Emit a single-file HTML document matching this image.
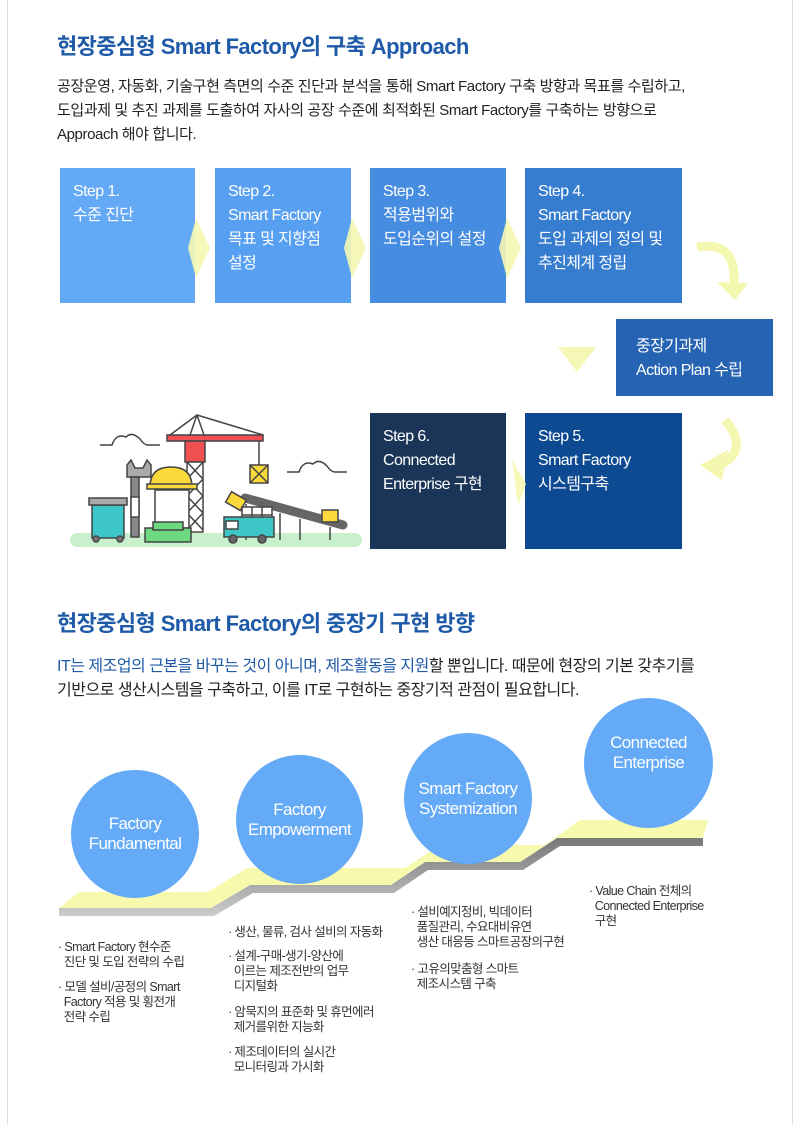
<!DOCTYPE html>
<html><head><meta charset="utf-8"><style>
*{margin:0;padding:0;box-sizing:border-box}
body{width:800px;height:1125px;background:#fff;position:relative;overflow:hidden;font-family:"Liberation Sans","Noto Sans CJK KR",sans-serif;letter-spacing:-0.6px}
.a{position:absolute;white-space:nowrap}
.h{color:#1f5aa8;font-size:22px;font-weight:bold;letter-spacing:-0.6px}
.p{font-size:15px;color:#222;line-height:24px;letter-spacing:-0.4px}
.box{position:absolute;color:#fff;font-size:16px;line-height:24px;padding:12px 0 0 13px}
.c{position:absolute;border-radius:50%;background:#64aaf7;color:#fff;font-size:17px;text-align:center;display:flex;align-items:center;justify-content:center;line-height:20px}
.t{font-size:12.5px;color:#333;line-height:15px;position:absolute;white-space:nowrap}
</style></head><body>
<div class="a" style="left:7px;top:0;width:1px;height:1125px;background:#ddd"></div>
<div class="a" style="left:792px;top:0;width:1px;height:1125px;background:#ddd"></div>

<div class="a h" style="left:57px;top:29px">현장중심형 Smart Factory의 구축 Approach</div>
<div class="a p" style="left:57px;top:75px">공장운영, 자동화, 기술구현 측면의 수준 진단과 분석을 통해 Smart Factory 구축 방향과 목표를 수립하고,<br>도입과제 및 추진 과제를 도출하여 자사의 공장 수준에 최적화된 Smart Factory를 구축하는 방향으로<br>Approach 해야 합니다.</div>

<div class="box" style="left:60px;top:168px;width:135px;height:135px;background:#64a9f5">Step 1.<br>수준 진단</div>
<div class="box" style="left:215px;top:168px;width:136px;height:135px;background:#579ff0">Step 2.<br>Smart Factory<br>목표 및 지향점<br>설정</div>
<div class="box" style="left:370px;top:168px;width:136px;height:135px;background:#468ce0">Step 3.<br>적용범위와<br>도입순위의 설정</div>
<div class="box" style="left:525px;top:168px;width:157px;height:135px;background:#367ccf">Step 4.<br>Smart Factory<br>도입 과제의 정의 및<br>추진체계 정립</div>
<div class="box" style="left:616px;top:319px;width:157px;height:77px;background:#2663b3;padding:16px 0 0 20px">중장기과제<br>Action Plan 수립</div>
<div class="box" style="left:370px;top:413px;width:136px;height:136px;background:#1b3558">Step 6.<br>Connected<br>Enterprise 구현</div>
<div class="box" style="left:525px;top:413px;width:157px;height:136px;background:#0e4a92">Step 5.<br>Smart Factory<br>시스템구축</div>

<svg class="a" style="left:0;top:0" width="800" height="1125">
<g fill="#f4f7b0" opacity="0.9">
<polygon points="188,248 196,218 210,248 196,278"/>
<polygon points="344,248 352,218 366,248 352,278"/>
<polygon points="499,248 507,218 521,248 507,278"/>
<polygon points="526,484 512,460 518,505" />
<polygon points="558,347 596,347 577,372"/>
</g>
<path d="M697,247 Q740,240 733,290" stroke="#f4f7b0" stroke-width="9" fill="none"/>
<polygon points="717,282 748,283 735,300" fill="#f4f7b0"/>
<path d="M725,420 Q750,450 720,465" stroke="#f4f7b0" stroke-width="9" fill="none"/>
<polygon points="700,465 728,450 722,480" fill="#f4f7b0"/>
<!-- illustration -->
<g stroke="#444" stroke-width="1.5">
<rect x="70" y="533" width="292" height="14" rx="7" fill="#c8f0cc" stroke="none"/>
<path d="M100,445 h12 q4,-12 14,-8 q6,-6 14,2 q4,6 8,6 h12" fill="none"/>
<path d="M287,472 h12 q4,-12 14,-8 q6,-6 14,2 q4,6 8,6 h12" fill="none"/>
<polyline points="170,435 197,415 263,435" fill="none"/>
<line x1="197" y1="415" x2="190" y2="435"/><line x1="197" y1="415" x2="204" y2="435"/>
<rect x="167" y="435" width="96" height="6" fill="#f05050"/>
<rect x="185" y="441" width="20" height="21" fill="#f05050"/>
<rect x="187" y="462" width="16" height="70" fill="#fff"/>
<path d="M187,462 l16,17 M203,462 l-16,17 M187,479 l16,17 M203,479 l-16,17 M187,496 l16,17 M203,496 l-16,17 M187,513 l16,17 M203,513 l-16,17" fill="none"/>
<line x1="259" y1="441" x2="259" y2="465"/>
<rect x="250" y="465" width="18" height="18" fill="#fbd93a"/>
<path d="M250,465 l18,18 M268,465 l-18,18"/>
<rect x="92" y="505" width="32" height="33" fill="#3cc6c6"/>
<rect x="89" y="498" width="38" height="7" fill="#aaa"/>
<circle cx="96" cy="539" r="3" fill="#777"/><circle cx="120" cy="539" r="3" fill="#777"/>
<path d="M127,465 l4,-5 l4,8 h8 l4,-8 l4,5 v12 h-24 z" fill="#aaa"/>
<rect x="131" y="477" width="8" height="60" fill="#888"/>
<rect x="131" y="497" width="8" height="20" fill="#fff"/>
<rect x="155" y="490" width="34" height="38" fill="#fff"/>
<path d="M150,487 q0,-20 21,-20 q21,0 21,20 z" fill="#fbd93a"/>
<rect x="147" y="484" width="50" height="5" fill="#fbd93a"/>
<rect x="145" y="528" width="46" height="14" fill="#6ed87e"/>
<rect x="153" y="522" width="30" height="8" fill="#6ed87e"/>
<line x1="245" y1="498" x2="343" y2="525" stroke="#666" stroke-width="9" stroke-linecap="round"/>
<line x1="246" y1="504" x2="246" y2="540"/><line x1="260" y1="508" x2="260" y2="540"/><line x1="280" y1="513" x2="280" y2="540"/><line x1="300" y1="519" x2="300" y2="540"/><line x1="330" y1="527" x2="330" y2="540"/>
<rect x="228" y="495" width="17" height="12" fill="#fbd93a" transform="rotate(30 236 500)"/>
<rect x="322" y="510" width="16" height="12" fill="#fbd93a"/>
<rect x="242" y="507" width="30" height="25" fill="#fff"/>
<path d="M242,515 h30 M242,523 h30 M252,507 v25 M262,507 v25" fill="none"/>
<rect x="224" y="517" width="50" height="20" fill="#3cc6c6"/>
<rect x="226" y="521" width="12" height="8" fill="#fff"/>
<circle cx="233" cy="539" r="4" fill="#666"/><circle cx="262" cy="539" r="4" fill="#666"/>
</g>
<!-- stairs -->
<defs><linearGradient id="sh" x1="0" y1="0" x2="0" y2="1"><stop offset="0" stop-color="#777"/><stop offset="1" stop-color="#ccc"/></linearGradient></defs>
<polygon points="59,908 211,908 250,885 391,885 425,862 520,862 557,838 703,838 703,846 560,846 523,870 428,870 394,893 253,893 214,916 59,916" fill="url(#sh)"/>
<polygon points="79,892 208,892 247,868 405,868 440,845 545,845 580,820 708,820 703,838 557,838 520,862 425,862 391,885 250,885 211,908 59,908" fill="#f7f9ad"/>
</svg>

<div class="a h" style="left:57px;top:606px">현장중심형 Smart Factory의 중장기 구현 방향</div>
<div class="a p" style="left:57px;top:655px;font-size:16px;letter-spacing:-0.5px"><span style="color:#1f5aa8">IT는 제조업의 근본을 바꾸는 것이 아니며, 제조활동을 지원</span>할 뿐입니다. 때문에 현장의 기본 갖추기를<br>기반으로 생산시스템을 구축하고, 이를 IT로 구현하는 중장기적 관점이 필요합니다.</div>

<div class="c" style="left:71px;top:770px;width:128px;height:128px">Factory<br>Fundamental</div>
<div class="c" style="left:236px;top:755px;width:127px;height:129px">Factory<br>Empowerment</div>
<div class="c" style="left:404px;top:733px;width:128px;height:131px">Smart Factory<br>Systemization</div>
<div class="c" style="left:584px;top:698px;width:129px;height:130px;padding-bottom:20px">Connected<br>Enterprise</div>

<div class="t" style="left:58px;top:940px">· Smart Factory 현수준<br>&nbsp;&nbsp;진단 및 도입 전략의 수립</div>
<div class="t" style="left:58px;top:980px">· 모델 설비/공정의 Smart<br>&nbsp;&nbsp;Factory 적용 및 횡전개<br>&nbsp;&nbsp;전략 수립</div>
<div class="t" style="left:228px;top:925px">· 생산, 물류, 검사 설비의 자동화</div>
<div class="t" style="left:228px;top:949px">· 설계-구매-생기-양산에<br>&nbsp;&nbsp;이르는 제조전반의 업무<br>&nbsp;&nbsp;디지털화</div>
<div class="t" style="left:228px;top:1005px">· 암묵지의 표준화 및 휴먼에러<br>&nbsp;&nbsp;제거를위한 지능화</div>
<div class="t" style="left:228px;top:1045px">· 제조데이터의 실시간<br>&nbsp;&nbsp;모니터링과 가시화</div>
<div class="t" style="left:411px;top:905px">· 설비예지정비, 빅데이터<br>&nbsp;&nbsp;품질관리, 수요대비유연<br>&nbsp;&nbsp;생산 대응등 스마트공장의구현</div>
<div class="t" style="left:411px;top:962px">· 고유의맞춤형 스마트<br>&nbsp;&nbsp;제조시스템 구축</div>
<div class="t" style="left:589px;top:884px">· Value Chain 전체의<br>&nbsp;&nbsp;Connected Enterprise<br>&nbsp;&nbsp;구현</div>
</body></html>
